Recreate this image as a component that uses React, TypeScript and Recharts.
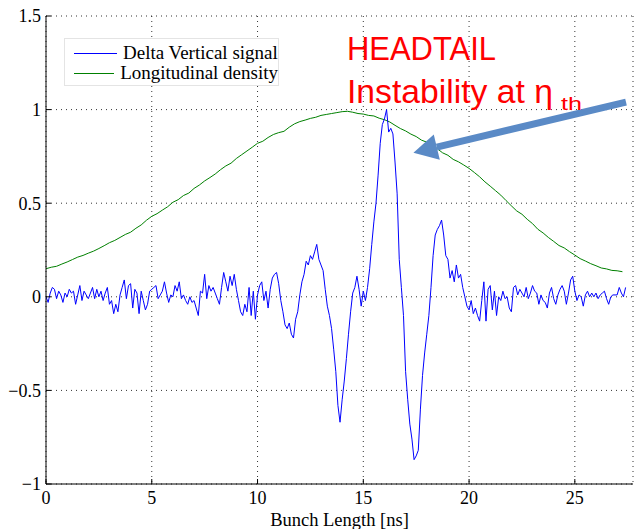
import React from "react"
import {
  CartesianGrid,
  Legend,
  Line,
  LineChart,
  ReferenceLine,
  XAxis,
  YAxis,
} from "recharts"

// Delta vertical signal, sampled every 0.1 ns from 0 to 27.4 ns
const signalStep = 0.1
const deltaVertical = [
  0.0, -0.03, 0.02, 0.05, 0.04, -0.01, 0.03, 0.01, -0.03, 0.02,
  0.0, 0.04, 0.02, 0.03, -0.04, 0.01, 0.06, -0.02, 0.03, 0.01,
  -0.01, 0.02, 0.05, -0.01, 0.04, 0.0, 0.03, -0.02, 0.02, 0.05,
  -0.04, -0.02, -0.09, -0.04, -0.08, 0.01, 0.05, 0.09, -0.01, 0.06,
  0.07, -0.06, 0.04, 0.02, -0.09, 0.03, -0.02, -0.07, -0.04, 0.03,
  0.04, 0.05, 0.06, -0.01, 0.01, 0.03, 0.08, 0.02, -0.03, 0.01,
  0.0, 0.06, 0.03, 0.08, -0.01, 0.01, -0.02, -0.04, 0.0, -0.03,
  -0.02, -0.06, -0.1, 0.03, 0.02, 0.12, -0.01, 0.06, 0.03, 0.05,
  0.02, -0.01, -0.04, 0.05, 0.13, 0.08, 0.03, 0.11, 0.06, 0.12,
  0.04, -0.02, -0.08, -0.1, -0.04, -0.08, 0.05, -0.1, 0.03, -0.12,
  0.01, 0.06, 0.08, -0.02, 0.03, -0.06, 0.04, 0.1, 0.12, 0.13,
  0.07, -0.02, -0.08, -0.15, -0.17, -0.14, -0.2, -0.22, -0.12, -0.08,
  0.01, 0.08, 0.12, 0.19, 0.17, 0.22, 0.2, 0.24, 0.28, 0.2,
  0.17, 0.14, 0.04, -0.05, -0.1, -0.17, -0.28, -0.4, -0.58, -0.67,
  -0.55, -0.45, -0.33, -0.2, -0.08, 0.02, 0.05, 0.11, 0.04, -0.05,
  0.03, -0.02, 0.05, 0.15, 0.28, 0.4, 0.5, 0.65, 0.82, 0.92,
  0.95, 1.0, 0.88, 0.9, 0.87, 0.72, 0.55, 0.2, 0.05, -0.1,
  -0.4, -0.55, -0.68, -0.76, -0.87, -0.85, -0.82, -0.6, -0.42, -0.3,
  -0.2, -0.1, 0.05, 0.22, 0.33, 0.36, 0.38, 0.41, 0.33, 0.22,
  0.2, 0.1, 0.14, 0.08, 0.17, 0.1, 0.12, 0.05, 0.0, -0.05,
  -0.07, -0.02, -0.09, -0.06, -0.1, -0.13, -0.02, 0.08, -0.13, 0.04,
  0.06, -0.07, 0.03, -0.1, 0.0, -0.02, 0.03, -0.01, 0.0, -0.06,
  -0.08, 0.05, 0.06, 0.01, 0.04, 0.02, 0.0, 0.05, -0.01, 0.02,
  0.06, 0.03, 0.02, -0.04, 0.01, -0.02, -0.03, -0.06, 0.02, 0.05,
  -0.01, -0.04, 0.01, 0.04, 0.06, 0.03, -0.04, 0.02, 0.09, 0.11,
  0.03, -0.02, 0.01, 0.0, -0.05, 0.01, 0.03, 0.0, 0.02, 0.0,
  0.02, -0.01, 0.01, 0.02, 0.03, -0.01, -0.04, 0.0, 0.01, 0.01,
  0.01, 0.05, 0.02, 0.0, 0.05,
]

// Longitudinal density, sampled every 0.25 ns from 0 to 27.25 ns
const densityStep = 0.25
const longitudinalDensity = [
  0.15, 0.158, 0.163, 0.175, 0.186, 0.199, 0.212, 0.221, 0.233, 0.244,
  0.258, 0.273, 0.289, 0.301, 0.317, 0.333, 0.345, 0.366, 0.384, 0.409,
  0.43, 0.444, 0.463, 0.481, 0.505, 0.519, 0.541, 0.554, 0.579, 0.597,
  0.619, 0.637, 0.656, 0.679, 0.699, 0.714, 0.739, 0.759, 0.779, 0.799,
  0.82, 0.831, 0.851, 0.867, 0.877, 0.884, 0.906, 0.924, 0.936, 0.944,
  0.953, 0.959, 0.969, 0.974, 0.979, 0.984, 0.989, 0.991, 0.986, 0.979,
  0.976, 0.969, 0.966, 0.954, 0.946, 0.934, 0.916, 0.899, 0.886, 0.869,
  0.856, 0.837, 0.826, 0.811, 0.791, 0.769, 0.756, 0.734, 0.721, 0.704,
  0.686, 0.664, 0.641, 0.614, 0.591, 0.567, 0.543, 0.514, 0.486, 0.459,
  0.441, 0.414, 0.391, 0.361, 0.341, 0.317, 0.296, 0.274, 0.261, 0.241,
  0.223, 0.204, 0.191, 0.177, 0.166, 0.154, 0.149, 0.141, 0.139, 0.134,
]

const xTicks = [0, 5, 10, 15, 20, 25]
const yTicks = [-1, -0.5, 0, 0.5, 1, 1.5]

const signalData = deltaVertical.map((v, i) => ({ t: +(i * signalStep).toFixed(2), v }))
const densityData = longitudinalDensity.map((v, i) => ({ t: +(i * densityStep).toFixed(2), v }))

const serif = '"Liberation Serif", "Times New Roman", serif'
const fmt = (v: number) => (v < 0 ? "\u2212" + Math.abs(v) : String(v))

const BottomTick = ({ x, y, payload }: any) => (
  <g>
    <line x1={x} y1={y} x2={x} y2={y - 5} stroke="#000" />
    <text x={x} y={y + 20} textAnchor="middle" fontFamily={serif} fontSize={18} fill="#000">
      {fmt(payload.value)}
    </text>
  </g>
)

const LeftTick = ({ x, y, payload }: any) => (
  <g>
    <line x1={x} y1={y} x2={x + 5} y2={y} stroke="#000" />
    <text x={x - 5} y={y} dy="0.35em" textAnchor="end" fontFamily={serif} fontSize={18} fill="#000">
      {fmt(payload.value)}
    </text>
  </g>
)

const TopTick = ({ x, y }: any) => <line x1={x} y1={y} x2={x} y2={y + 5} stroke="#000" />
const RightTick = ({ x, y }: any) => <line x1={x} y1={y} x2={x - 5} y2={y} stroke="#000" />

// thick annotation arrow, tail -> tip
const Arrow = ({ x1, y1, x2, y2 }: any) => {
  const len = Math.hypot(x1 - x2, y1 - y2)
  const ux = (x1 - x2) / len
  const uy = (y1 - y2) / len
  const bx = x2 + ux * 24
  const by = y2 + uy * 24
  const nx = -uy * 13
  const ny = ux * 13
  return (
    <g>
      <line x1={x1} y1={y1} x2={bx} y2={by} stroke="#5a8ac6" strokeWidth={7} />
      <polygon points={`${x2},${y2} ${bx + nx},${by + ny} ${bx - nx},${by - ny}`} fill="#5a8ac6" />
    </g>
  )
}

const LegendBox = () => (
  <div
    style={{
      boxSizing: "border-box",
      width: 215,
      height: 48,
      paddingTop: 4,
      background: "#fff",
      border: "1px solid #e4e4e4",
      fontFamily: serif,
      fontSize: 19,
      lineHeight: "20px",
      color: "#000",
    }}
  >
    {[
      { name: "Delta Vertical signal", color: "#0000ff" },
      { name: "Longitudinal density", color: "#008000" },
    ].map((item) => (
      <div key={item.name} style={{ display: "flex", alignItems: "center", height: 20, whiteSpace: "nowrap" }}>
        <span style={{ display: "inline-block", marginLeft: 9, width: 43, height: 1, background: item.color }} />
        <span style={{ marginLeft: 6 }}>{item.name}</span>
      </div>
    ))}
  </div>
)

export default function App() {
  return (
    <div style={{ position: "absolute", left: 0, top: 0, width: 635, height: 529, background: "#fff" }}>
      <LineChart width={635} height={529} margin={{ top: 16, right: 2, bottom: 0, left: 0 }}>
        <CartesianGrid stroke="#000" strokeDasharray="1 4" strokeOpacity={0.8} />
        <XAxis
          type="number"
          dataKey="t"
          domain={[0, 27.75]}
          ticks={xTicks}
          interval={0}
          allowDataOverflow
          height={45}
          tickSize={0}
          tickMargin={0}
          tickLine={false}
          axisLine={{ stroke: "#000" }}
          tick={<BottomTick />}
          label={{
            value: "Bunch Length [ns]",
            position: "insideBottom",
            offset: 3,
            fontFamily: serif,
            fontSize: 18.5,
            fill: "#000",
          }}
        />
        <XAxis
          xAxisId="top"
          orientation="top"
          type="number"
          dataKey="t"
          domain={[0, 27.75]}
          ticks={xTicks}
          interval={0}
          allowDataOverflow
          height={0}
          tickSize={0}
          tickMargin={0}
          tickLine={false}
          axisLine={{ stroke: "#000" }}
          tick={<TopTick />}
        />
        <YAxis
          type="number"
          domain={[-1, 1.5]}
          ticks={yTicks}
          interval={0}
          allowDataOverflow
          width={46}
          tickSize={0}
          tickMargin={0}
          tickLine={false}
          axisLine={{ stroke: "#000" }}
          tick={<LeftTick />}
        />
        <YAxis
          yAxisId="right"
          orientation="right"
          type="number"
          domain={[-1, 1.5]}
          ticks={yTicks}
          interval={0}
          allowDataOverflow
          width={0}
          tickSize={0}
          tickMargin={0}
          tickLine={false}
          axisLine={{ stroke: "#000" }}
          tick={<RightTick />}
        />
        <Line
          data={densityData}
          dataKey="v"
          type="linear"
          stroke="#008000"
          strokeWidth={1}
          dot={false}
          isAnimationActive={false}
        />
        <Line
          data={signalData}
          dataKey="v"
          type="linear"
          stroke="#0000ff"
          strokeWidth={1}
          dot={false}
          isAnimationActive={false}
        />
        <ReferenceLine
          segment={[
            { x: 27.42, y: 1.04 },
            { x: 17.37, y: 0.77 },
          ]}
          shape={<Arrow />}
        />
        <Legend
          layout="horizontal"
          verticalAlign="middle"
          align="center"
          content={<LegendBox />}
          wrapperStyle={{ left: 64, top: 38, width: 215, height: 48 }}
        />
      </LineChart>
      <svg
        width={635}
        height={529}
        style={{ position: "absolute", left: 0, top: 0, pointerEvents: "none" }}
      >
        <g fill="#ff0000" fontFamily='"Liberation Sans", Arial, sans-serif'>
          <text x={347} y={60} fontSize={33} textLength={149} lengthAdjust="spacingAndGlyphs">
            HEADTAIL
          </text>
          <text x={347} y={103} fontSize={33} textLength={206} lengthAdjust="spacingAndGlyphs">
            Instability at η
          </text>
          <text x={561} y={110} fontSize={19} textLength={21} lengthAdjust="spacingAndGlyphs">
            th
          </text>
        </g>
      </svg>
    </div>
  )
}
